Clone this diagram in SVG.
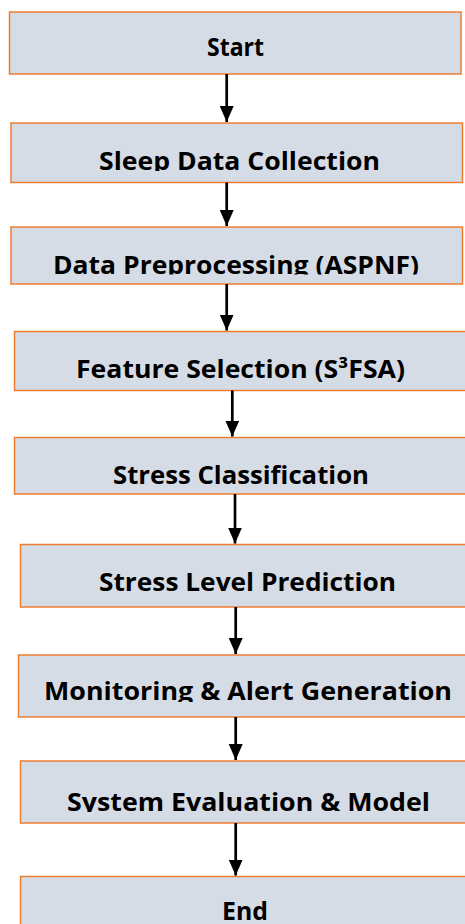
<svg xmlns="http://www.w3.org/2000/svg" width="465" height="924" viewBox="0 0 465 924">
<style>
.box{fill:#D6DCE5;stroke:#ED7D31;stroke-width:1.5}
.lbl{font-family:"Open Sans","Noto Sans","Liberation Sans",sans-serif;font-weight:bold;font-size:25px;fill:#000;text-anchor:middle}
.conn{stroke:#000;stroke-width:2.7;fill:none}
</style>
<defs>
<marker id="ah" markerUnits="userSpaceOnUse" markerWidth="16" markerHeight="14" refX="16" refY="7" orient="auto" viewBox="0 0 16 14">
<path d="M0,0 L16,7 L0,14 Z" fill="#000"/>
</marker>
<clipPath id="c2"><rect x="0" y="140" width="465" height="31"/></clipPath>
<clipPath id="c3"><rect x="0" y="240" width="465" height="34.5"/></clipPath>
<clipPath id="c7"><rect x="0" y="670" width="465" height="32"/></clipPath>
<clipPath id="c8"><rect x="0" y="780" width="465" height="32"/></clipPath>
</defs>
<g id="n1"><rect class="box" x="9.5" y="12" width="451.5" height="62"/><text class="lbl" x="235.5" y="56" textLength="57" lengthAdjust="spacingAndGlyphs">Start</text></g>
<g id="n2"><rect class="box" x="11" y="123" width="451.5" height="59.5"/><text class="lbl" x="239.5" y="170" textLength="281" lengthAdjust="spacingAndGlyphs" clip-path="url(#c2)">Sleep Data Collection</text></g>
<g id="n3"><rect class="box" x="11" y="227" width="451.5" height="57"/><text class="lbl" x="236" y="273.5" textLength="366" lengthAdjust="spacingAndGlyphs" clip-path="url(#c3)">Data Preprocessing (ASPNF)</text></g>
<g id="n4"><rect class="box" x="14.5" y="331.5" width="460" height="59"/><text class="lbl" x="240.5" y="377.5" textLength="329" lengthAdjust="spacingAndGlyphs">Feature Selection (S³FSA)</text></g>
<g id="n5"><rect class="box" x="14.5" y="437.5" width="460" height="56.5"/><text class="lbl" x="241" y="484" textLength="256" lengthAdjust="spacingAndGlyphs">Stress Classification</text></g>
<g id="n6"><rect class="box" x="20.5" y="544.5" width="460" height="62.5"/><text class="lbl" x="247.5" y="590.5" textLength="297" lengthAdjust="spacingAndGlyphs">Stress Level Prediction</text></g>
<g id="n7"><rect class="box" x="18.5" y="655" width="460" height="62"/><text class="lbl" x="248" y="700" textLength="408" lengthAdjust="spacingAndGlyphs" clip-path="url(#c7)">Monitoring &amp; Alert Generation</text></g>
<g id="n8"><rect class="box" x="20.5" y="761" width="460" height="62"/><text class="lbl" x="248.5" y="810.5" textLength="363" lengthAdjust="spacingAndGlyphs" clip-path="url(#c8)">System Evaluation &amp; Model</text></g>
<g id="n9"><rect class="box" x="20.5" y="876.5" width="460" height="60"/><text class="lbl" x="245" y="920" textLength="46" lengthAdjust="spacingAndGlyphs">End</text></g>
<g id="connectors">
<line class="conn" x1="226.7" y1="74" x2="226.7" y2="122" marker-end="url(#ah)"/>
<line class="conn" x1="226.7" y1="182.5" x2="226.7" y2="226" marker-end="url(#ah)"/>
<line class="conn" x1="226.7" y1="284" x2="226.7" y2="330.5" marker-end="url(#ah)"/>
<line class="conn" x1="232.3" y1="390.5" x2="232.3" y2="436.5" marker-end="url(#ah)"/>
<line class="conn" x1="235" y1="494" x2="235" y2="543.5" marker-end="url(#ah)"/>
<line class="conn" x1="235.7" y1="607" x2="235.7" y2="654" marker-end="url(#ah)"/>
<line class="conn" x1="235.7" y1="717" x2="235.7" y2="760" marker-end="url(#ah)"/>
<line class="conn" x1="235.7" y1="823" x2="235.7" y2="875.5" marker-end="url(#ah)"/>
</g>
</svg>
